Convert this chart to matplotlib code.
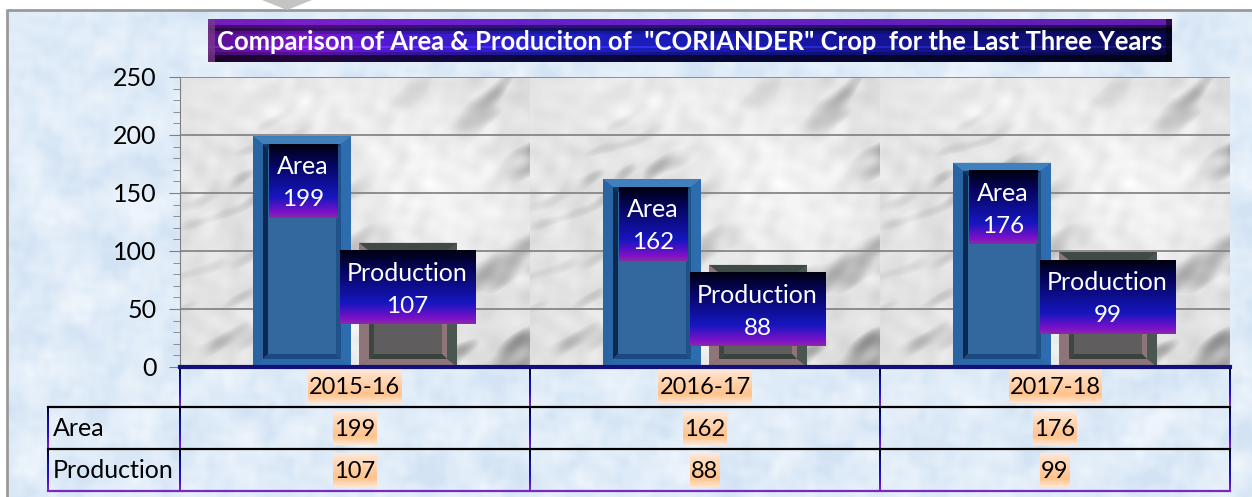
import numpy as np
import matplotlib
matplotlib.use("Agg")
import matplotlib.pyplot as plt
from matplotlib.colors import LinearSegmentedColormap, to_rgb
from matplotlib.patches import Polygon

years = ["2015-16", "2016-17", "2017-18"]
series_names = ["Area", "Production"]
area = [199, 162, 176]
production = [107, 88, 99]
title = 'Comparison of Area & Produciton of  "CORIANDER" Crop  for the Last Three Years'

W, H = 1252, 497
plt.rcParams["font.family"] = ["Lato", "DejaVu Sans"]
fig = plt.figure(figsize=(W / 100, H / 100), dpi=100, facecolor="white")

bg = fig.add_axes([0, 0, 1, 1], zorder=0)
bg.axis("off")


def pixel_limits():
    bg.set_xlim(0, W)
    bg.set_ylim(H, 0)


def plane_waves(x, y, count, angle, spread, f_lo, f_hi):
    """Deterministic cloud decoration from many plane waves (golden-ratio phases), not data."""
    phi = 0.6180339887
    t = np.zeros_like(x, dtype=float)
    for k in range(1, count + 1):
        a = angle + spread * (((k * phi) % 1) - 0.5)
        f = f_lo * (f_hi / f_lo) ** ((k * 0.7548776662) % 1)
        t += np.sin((x * np.cos(a) + y * np.sin(a)) * f + 6.283 * ((k * 0.5698402910) % 1)) * (f_lo / f) ** 0.6
    return t / t.std()


def sky_texture(w, h):
    y, x = np.mgrid[0:h, 0:w]
    t = plane_waves(x, y, 80, 0.5, 3.1, 0.06, 0.6)
    return np.clip(0.5 + t * 0.2, 0, 1)


def marble_texture(w, h):
    y, x = np.mgrid[0:h, 0:w]
    x = x % 350
    # streaks run up and to the right, so the fast variation crosses that direction
    streaks = plane_waves(x, y, 90, 0.95, 1.1, 0.05, 0.35)
    clouds = plane_waves(x, y, 25, 0.6, 3.1, 0.012, 0.04)
    grain = plane_waves(x, y, 30, 0.2, 3.1, 0.12, 0.4)
    dark = np.clip(streaks - 0.35, 0, None) * np.clip(0.8 + 0.5 * clouds, 0.1, 1.6)
    t = 0.9 - 0.125 * dark - 0.02 * clouds + 0.015 * grain
    return np.clip(t, 0, 1)


sky = LinearSegmentedColormap.from_list("sky", ["#d3e3f4", "#e0ecf8", "#edf4fb"])
bg.imshow(sky_texture(W, H), cmap=sky, vmin=0, vmax=1,
          extent=(7, W, H, 10), aspect="auto", zorder=1)
bg.plot([7, 7, W], [H, 10, 10], color="#9a9a9a", lw=2, zorder=2)
bg.add_patch(Polygon([[262, 0], [312, 0], [287, 10]], closed=True, fc="#c4c4c4", ec="none", zorder=2))

# title banner
bx0, bx1, by0, by1 = 208, 1172, 19, 62
bw_px, bh_px = bx1 - bx0, by1 - by0
banner_cmap = LinearSegmentedColormap.from_list(
    "t", [(0, "#5a1090"), (0.1, "#7818d0"), (0.2, "#4a1ad0"), (0.35, "#2020c8"),
          (0.6, "#1818a8"), (0.85, "#10107a"), (1, "#0a0a50")])
banner = banner_cmap(np.linspace(0, 1, bw_px))[:, :3][None, :, :].repeat(bh_px, axis=0)
top_col = np.array(to_rgb("#7a20c8"))
banner[:6] = 0.8 * top_col + 0.2 * banner[:6]
banner[6:9] = 0.3 * top_col + 0.3 * banner[6:9]
banner[9:12] *= 0.5
banner[12:15] *= 0.8
banner[27:29] = np.clip(banner[27:29] * 1.2 + 0.05, 0, 1)
banner[33:36] *= 0.75
banner[36:] *= 0.3
banner[:, :7] = 0.75 * np.array(to_rgb("#7a3a8a")) + 0.25 * banner[:, :7]
banner[:, -6:] *= 0.45
bg.imshow(banner, extent=(bx0, bx1, by1, by0), aspect="auto", zorder=4)
bg.text(690, 42, title, color="white", fontweight="bold", fontsize=18.42,
        ha="center", va="center", zorder=5)

# data table
col_x = [180, 530, 880, 1230]
row_y = [367, 407, 449, 491]
left_x = 48
rule_cmap = LinearSegmentedColormap.from_list("r", ["#000020", "#10109a", "#2a10d0", "#8a20c0"])
rule = np.linspace(0, 1, 64).reshape(-1, 1)
for x in col_x:
    for y0, y1 in zip(row_y[:-1], row_y[1:]):
        bg.imshow(rule, cmap=rule_cmap, extent=(x - 1, x + 1, y1, y0), aspect="auto", zorder=3)
for y0, y1 in zip(row_y[1:-1], row_y[2:]):
    bg.imshow(rule, cmap=rule_cmap, extent=(left_x - 1, left_x + 1, y1, y0), aspect="auto", zorder=3)
for y, c in zip(row_y[1:], ["#000000", "#000000", "#7a28c0"]):
    bg.plot([left_x, col_x[-1]], [y, y], color=c, lw=1.6, zorder=3)
pixel_limits()

for name, y in zip(series_names, [429, 471]):
    bg.text(left_x + 5, y, name, fontsize=18, color="black", ha="left", va="center", zorder=6)

cell_cmap = LinearSegmentedColormap.from_list(
    "c", [(0, "#ffe8dc"), (0.2, "#ffdcc0"), (0.75, "#ffc28a"), (1, "#ffe6d2")])
renderer = fig.canvas.get_renderer()


def table_cell(cx, cy, txt):
    t = bg.text(cx, cy + 1, txt, fontsize=17, ha="center", va="center", color="black", zorder=6)
    box = t.get_window_extent(renderer)
    bg.imshow(rule, cmap=cell_cmap, extent=(box.x0 - 1, box.x1 + 1, cy + 17, cy - 17),
              aspect="auto", zorder=5)


for i in range(3):
    cx = (col_x[i] + col_x[i + 1]) / 2
    table_cell(cx, 386, years[i])
    table_cell(cx, 428, str(area[i]))
    table_cell(cx, 470, str(production[i]))
pixel_limits()

# plot area
ax = fig.add_axes([180 / W, 1 - 367 / H, 1050 / W, 290 / H], zorder=2)
ax.imshow(marble_texture(1050, 290), cmap="gray", vmin=0, vmax=1,
          extent=(-0.5, 2.5, 0, 250), aspect="auto", zorder=0)
ax.set_yticks(range(0, 251, 50))
ax.set_yticks(range(0, 251, 10), minor=True)
ax.tick_params(axis="y", which="major", length=8, color="#7f7f7f", labelsize=18, pad=9, labelcolor="black")
ax.tick_params(axis="y", which="minor", length=5, color="#7f7f7f")
ax.set_xticks([])
ax.grid(axis="y", color="#868686", lw=1.3, zorder=1)
for s in ["top", "right", "bottom"]:
    ax.spines[s].set_visible(False)
ax.spines["left"].set_color("#7f7f7f")
ax.axhline(0, color="#14107a", lw=3, zorder=8, clip_on=False)

PX = 1 / 350
PY = 250 / 290
bw = 98 * PX
off = 53 * PX
label_cmap = LinearSegmentedColormap.from_list(
    "l", [(0, "#000010"), (0.25, "#05055a"), (0.72, "#1616c0"), (0.92, "#7a10c8"), (1, "#8a2aa8")])
lgrad = np.linspace(0, 1, 128).reshape(-1, 1)


def frame(l, r, b, t, w_px, h_px, cols, z):
    il, ir = l + w_px * PX, r - w_px * PX
    ib, it = b + h_px * PY, t - h_px * PY
    ct, cl, cr, cb = cols
    ax.add_patch(Polygon([[l, t], [r, t], [ir, it], [il, it]], fc=ct, ec="none", zorder=z))
    ax.add_patch(Polygon([[l, b], [l, t], [il, it], [il, ib]], fc=cl, ec="none", zorder=z))
    ax.add_patch(Polygon([[r, b], [r, t], [ir, it], [ir, ib]], fc=cr, ec="none", zorder=z))
    ax.add_patch(Polygon([[l, b], [r, b], [ir, ib], [il, ib]], fc=cb, ec="none", zorder=z))
    return il, ir, ib, it


def bevel_bar(x, v, outer, inner, face):
    l, r = x - bw / 2, x + bw / 2
    ax.bar(x, v, width=bw, color=face, zorder=3)
    il, ir, ib, it = frame(l, r, 0, v, 10, 8, outer, 4)
    frame(il, ir, ib, it, 5, 5, inner, 4)


def label(x, v, name, half_w):
    y1 = v - 7.5 * PY
    y0 = y1 - 74 * PY
    ax.imshow(lgrad, cmap=label_cmap, extent=(x - half_w, x + half_w, y0, y1),
              aspect="auto", zorder=7)
    ax.text(x, y1 - 23 * PY, name, color="white", fontsize=18, ha="center", va="center", zorder=8)
    ax.text(x, y1 - 56 * PY, str(v), color="white", fontsize=17.5, ha="center", va="center", zorder=8)


area_outer = ("#4080bc", "#2b64a2", "#2d6cae", "#2d68a8")
area_inner = ("#12386a", "#0a2850", "#1f5288", "#1b4a80")
prod_outer = ("#3f4a44", "#8d757a", "#4a5650", "#8d757a")
prod_inner = ("#3a3f3b", "#3d4640", "#8d757a", "#3a423d")
for i, (a, p) in enumerate(zip(area, production)):
    bevel_bar(i - off, a, area_outer, area_inner, "#33689f")
    bevel_bar(i + off, p, prod_outer, prod_inner, "#5f5d5e")
for i, (a, p) in enumerate(zip(area, production)):
    label(i - off + 0.003, a, series_names[0], 34.5 * PX)
    label(i + 0.15, p, series_names[1], 68 * PX)
ax.set_xlim(-0.5, 2.5)
ax.set_ylim(0, 250)

fig.savefig("out.png", dpi=100, facecolor="white")
